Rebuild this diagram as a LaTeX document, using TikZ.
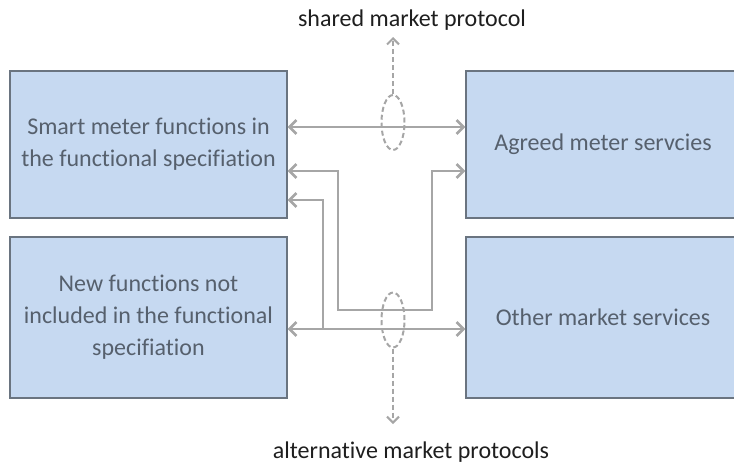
\documentclass[tikz,border=0pt]{standalone}
\usepackage{fontspec}
\setmainfont{Carlito}[Ligatures=NoCommon]
\usetikzlibrary{arrows.meta,shapes.geometric}
\definecolor{boxfill}{HTML}{C6D9F1}
\definecolor{boxline}{HTML}{6A7480}
\definecolor{boxtext}{HTML}{56606D}
\definecolor{conn}{HTML}{A6A6A6}
\definecolor{labtext}{HTML}{1E1E1E}
\tikzset{
  box/.style={draw=boxline, line width=1.3pt, fill=boxfill, text=boxtext,
    align=center, inner sep=0pt, font=\fontsize{24}{32}\selectfont},
  lab/.style={text=labtext, inner sep=0pt, font=\fontsize{24}{29}\selectfont},
  dbl/.style={draw=conn, line width=2.6pt, {Straight Barb[length=7pt,width=14pt]}-{Straight Barb[length=7pt,width=14pt]}},
  sgl/.style={draw=conn, line width=2.6pt, -{Straight Barb[length=7pt,width=14pt]}},
  dsh/.style={draw=conn, line width=2pt, dash pattern=on 5pt off 3pt, -{Straight Barb[length=6pt,width=12pt]}},
  ring/.style={ellipse, draw=conn, line width=2pt, dash pattern=on 5pt off 3pt, inner sep=0pt, minimum width=23pt, minimum height=55pt}
}
\begin{document}
\begin{tikzpicture}[x=1pt,y=-1pt]
\useasboundingbox (0,0) rectangle (734,466);
\begin{scope}
\clip (0,0) rectangle (734,466);
\node[box, minimum width=277pt, minimum height=147pt] (lt) at (148.5,144.5) {Smart meter functions in\\the functional specifiation};
\node[box, minimum width=277pt, minimum height=161pt] (lb) at (148.5,317.5) {New functions not\\included in the functional\\specifiation};
\node[box, minimum width=274pt, minimum height=147pt] (rt) at (603,144.5) {Agreed meter servcies};
\node[box, minimum width=274pt, minimum height=161pt] (rb) at (603,317.5) {Other market services};
\end{scope}

\node[lab] (top) at (412,20) {shared market protocol};
\node[lab] (bot) at (411,452) {alternative market protocols};

% top double arrow
\coordinate (t1) at (393,127);
\draw[dbl] (lt.east |- t1) -- (rt.west |- t1);

% loop connector
\coordinate (a1) at (338,171);
\coordinate (a2) at (338,310);
\coordinate (a3) at (432,310);
\coordinate (a4) at (432,171);
\draw[dbl] (lt.east |- a1) -- (a1) -- (a2) -- (a3) -- (a4) -- (rt.west |- a4);

% bottom double arrow with branch
\coordinate (b1) at (323,329);
\coordinate (b2) at (323,200);
\draw[dbl] (lb.east |- b1) -- (rb.west |- b1);
\draw[sgl] (b1) -- (b2) -- (lt.east |- b2);

% dashed rings
\node[ring] (e1) at (393,122.5) {};
\node[ring] (e2) at (393,320) {};
\coordinate (u1) at (393,37);
\coordinate (d1) at (393,424);
\draw[dsh] (e1.north) -- (u1);
\draw[dsh] (e2.south) -- (d1);
\end{tikzpicture}
\end{document}
